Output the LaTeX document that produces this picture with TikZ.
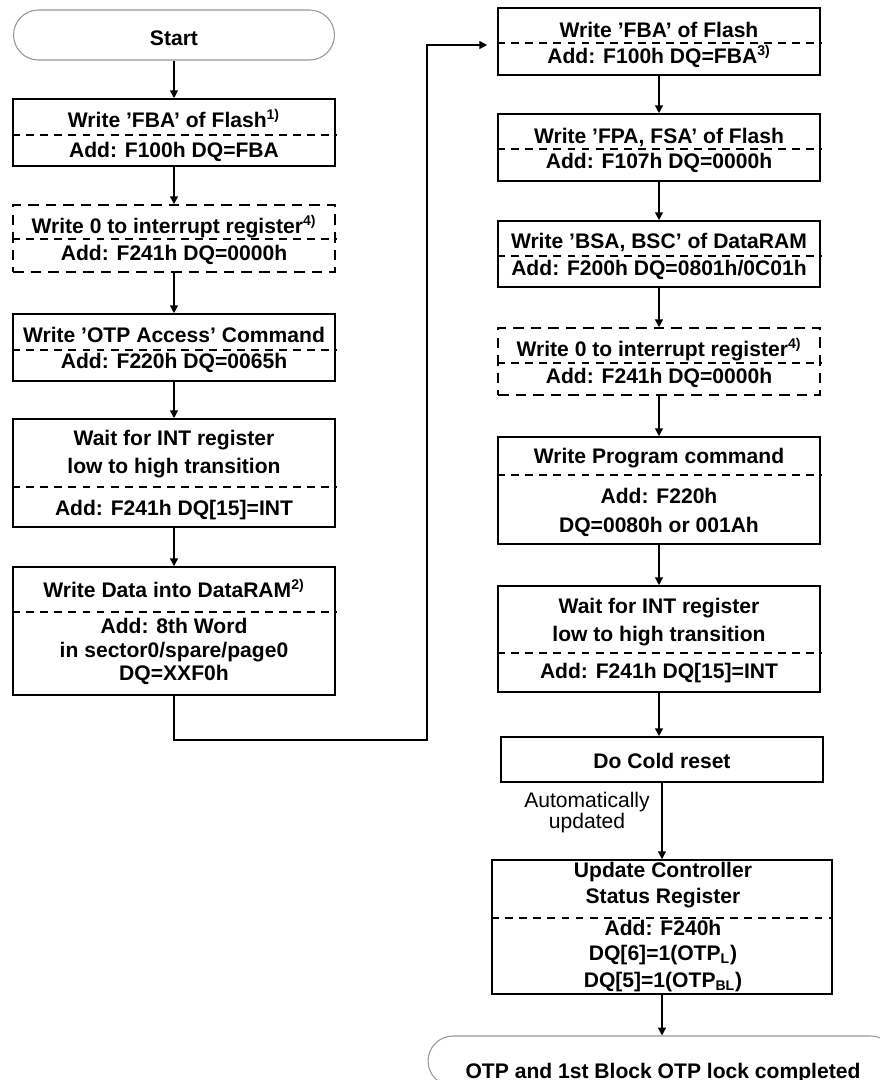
\documentclass[tikz,border=0pt]{standalone}
\usepackage{fontspec}
\setmainfont{Liberation Sans}
\usetikzlibrary{arrows.meta}
\definecolor{ink}{RGB}{0,0,0}
\definecolor{rimgray}{RGB}{150,150,150}
\tikzset{
  flow/.style={line width=0.8pt,ink,-{Triangle[length=4.5pt,width=4.5pt]}},
  proc/.style={draw=ink,line width=0.9pt,inner sep=0pt,minimum width=6.44cm,minimum height=1.34cm},
  optproc/.style={proc,dash pattern=on 6pt off 4pt},
  term/.style={draw=rimgray,line width=0.6pt,rounded corners=0.5cm,inner sep=0pt,minimum height=1cm},
  divider/.style={ink,line width=0.6pt,dash pattern=on 4.5pt off 3.5pt},
  txt/.style={font=\fontsize{12}{14}\selectfont\bfseries,text=ink,inner sep=0pt,anchor=base},
  note/.style={txt,font=\fontsize{12}{14}\selectfont}
}
\begin{document}
\begin{tikzpicture}[x=0.02cm,y=-0.02cm]
  \useasboundingbox (0,0) rectangle (880,1080);
  \clip (0,0) rectangle (880,1080);

  % left column
  \node[term,minimum width=6.42cm] (start) at (174,35) {};
  \node[txt] (start-t) at (174,45) {Start};

  \node[proc] (fba) at (174,132.5) {};
  \node[txt] (fba-t) at (174,127) {Write ’FBA’ of Flash\textsuperscript{1)}};
  \node[txt] (fba-b) at (174,157) {Add: F100h DQ=FBA};
  \draw[divider] (fba.west |- 0,135) -- (fba.east |- 0,135);

  \node[optproc] (int1) at (174,238.5) {};
  \node[txt] (int1-t) at (174,233) {Write 0 to interrupt register\textsuperscript{4)}};
  \node[txt] (int1-b) at (174,260) {Add: F241h DQ=0000h};
  \draw[divider] (int1.west |- 0,239) -- (int1.east |- 0,239);

  \node[proc] (otp) at (174,347.5) {};
  \node[txt] (otp-t) at (174,342) {Write ’OTP Access’ Command};
  \node[txt] (otp-b) at (174,368) {Add: F220h DQ=0065h};
  \draw[divider] (otp.west |- 0,350) -- (otp.east |- 0,350);

  \node[proc,minimum height=2.16cm] (wait1) at (174,473) {};
  \node[txt] (wait1-t1) at (174,445) {Wait for INT register};
  \node[txt] (wait1-t2) at (174,473) {low to high transition};
  \node[txt] (wait1-b) at (174,515) {Add: F241h DQ[15]=INT};
  \draw[divider] (wait1.west |- 0,487) -- (wait1.east |- 0,487);

  \node[proc,minimum height=2.56cm] (data) at (174,631) {};
  \node[txt] (data-t) at (174,597) {Write Data into DataRAM\textsuperscript{2)}};
  \node[txt] (data-b1) at (174,633) {Add: 8th Word};
  \node[txt] (data-b2) at (174,657) {in sector0/spare/page0};
  \node[txt] (data-b3) at (174,680) {DQ=XXF0h};
  \draw[divider] (data.west |- 0,612) -- (data.east |- 0,612);

  % right column
  \node[proc] (fba2) at (659,41.5) {};
  \node[txt] (fba2-t) at (659,37) {Write ’FBA’ of Flash};
  \node[txt] (fba2-b) at (659,63) {Add: F100h DQ=FBA\textsuperscript{3)}};
  \draw[divider] (fba2.west |- 0,43) -- (fba2.east |- 0,43);

  \node[proc] (fpa) at (659,147.5) {};
  \node[txt] (fpa-t) at (659,143) {Write ’FPA, FSA’ of Flash};
  \node[txt] (fpa-b) at (659,168) {Add: F107h DQ=0000h};
  \draw[divider] (fpa.west |- 0,149) -- (fpa.east |- 0,149);

  \node[proc,minimum height=1.32cm] (bsa) at (659,254) {};
  \node[txt] (bsa-t) at (659,248) {Write ’BSA, BSC’ of DataRAM};
  \node[txt] (bsa-b) at (659,275) {Add: F200h DQ=0801h/0C01h};
  \draw[divider] (bsa.west |- 0,256) -- (bsa.east |- 0,256);

  \node[optproc] (int2) at (659,361.5) {};
  \node[txt] (int2-t) at (659,356) {Write 0 to interrupt register\textsuperscript{4)}};
  \node[txt] (int2-b) at (659,383) {Add: F241h DQ=0000h};
  \draw[divider] (int2.west |- 0,363) -- (int2.east |- 0,363);

  \node[proc,minimum height=2.14cm] (prog) at (659,490.5) {};
  \node[txt] (prog-t) at (659,463) {Write Program command};
  \node[txt] (prog-b1) at (659,503) {Add: F220h};
  \node[txt] (prog-b2) at (659,532) {DQ=0080h or 001Ah};
  \draw[divider] (prog.west |- 0,475) -- (prog.east |- 0,475);

  \node[proc,minimum height=2.12cm] (wait2) at (659,639) {};
  \node[txt] (wait2-t1) at (659,613) {Wait for INT register};
  \node[txt] (wait2-t2) at (659,641) {low to high transition};
  \node[txt] (wait2-b) at (659,678) {Add: F241h DQ[15]=INT};
  \draw[divider] (wait2.west |- 0,653) -- (wait2.east |- 0,653);

  \node[proc,minimum height=0.9cm] (cold) at (662,759.5) {};
  \node[txt] (cold-t) at (662,768) {Do Cold reset};

  \node[note] (auto-1) at (587,807) {Automatically};
  \node[note] (auto-2) at (587,828) {updated};

  \node[proc,minimum width=6.8cm,minimum height=2.68cm] (update) at (662,927) {};
  \node[txt] (update-t1) at (663,877) {Update Controller};
  \node[txt] (update-t2) at (663,903) {Status Register};
  \node[txt] (update-b1) at (663,935) {Add: F240h};
  \node[txt] (update-b2) at (663,960) {DQ[6]=1(OTP\textsubscript{L})};
  \node[txt] (update-b3) at (663,987) {DQ[5]=1(OTP\textsubscript{BL})};
  \draw[divider] (update.west |- 0,918) -- (update.east |- 0,918);

  \node[term,minimum width=9.36cm] (done) at (662,1061) {};
  \node[txt] (done-t) at (663,1078) {OTP and 1st Block OTP lock completed};

  % connectors
  \draw[flow] (start) -- (fba);
  \draw[flow] (fba) -- (int1);
  \draw[flow] (int1) -- (otp);
  \draw[flow] (otp) -- (wait1);
  \draw[flow] (wait1) -- (data);
  \coordinate (lo) at (427,740);
  \coordinate (hi) at (427,45);
  \draw[flow,shorten >=0.2cm] (data.south) |- (lo) -- (hi) -- (hi -| fba2.west);
  \draw[flow] (fba2) -- (fpa);
  \draw[flow] (fpa) -- (bsa);
  \draw[flow] (bsa) -- (int2);
  \draw[flow] (int2) -- (prog);
  \draw[flow] (prog) -- (wait2);
  \draw[flow] (wait2.south) -- (wait2.south |- cold.north);
  \draw[flow] (cold) -- (update);
  \draw[flow] (update) -- (done);
\end{tikzpicture}
\end{document}
